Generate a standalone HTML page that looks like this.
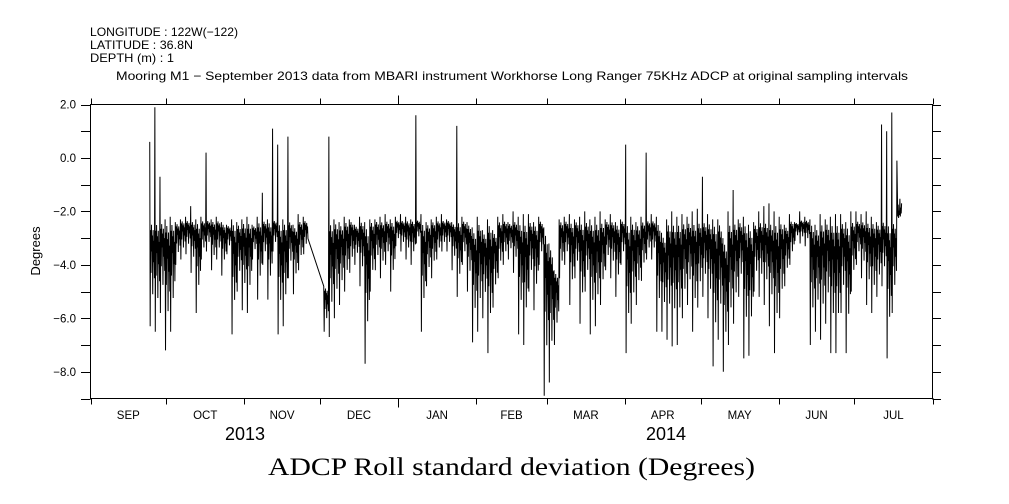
<!DOCTYPE html>
<html><head><meta charset="utf-8"><style>
html,body{margin:0;padding:0;background:#fff;}
svg{display:block;}
text{font-family:"Liberation Sans",sans-serif;fill:#000;}
</style></head><body>
<svg id="chart" width="1009" height="504" viewBox="0 0 1009 504" xmlns="http://www.w3.org/2000/svg">
<text x="90" y="36" font-size="12" textLength="148" lengthAdjust="spacingAndGlyphs">LONGITUDE : 122W(−122)</text>
<text x="90" y="49" font-size="12" textLength="103" lengthAdjust="spacingAndGlyphs">LATITUDE : 36.8N</text>
<text x="90" y="62" font-size="12" textLength="84" lengthAdjust="spacingAndGlyphs">DEPTH (m) : 1</text>
<text x="116" y="80" font-size="12" textLength="792" lengthAdjust="spacingAndGlyphs">Mooring M1 − September 2013 data from MBARI instrument Workhorse Long Ranger 75KHz ADCP at original sampling intervals</text>
<rect x="90.5" y="104.5" width="842" height="294" fill="none" stroke="#000" stroke-width="1"/>
<g id="axes"></g>
<polyline id="series" fill="none" stroke="#000" stroke-width="1"/>
<text transform="translate(40,251) rotate(-90)" font-size="13" text-anchor="middle">Degrees</text>
<text x="245" y="440" font-size="18" text-anchor="middle">2013</text>
<text x="666" y="440" font-size="18" text-anchor="middle">2014</text>
<text x="268" y="475" font-size="25" textLength="487" lengthAdjust="spacingAndGlyphs" style="font-family:'Liberation Serif',serif">ADCP Roll standard deviation (Degrees)</text>
</svg>
<script>
const months = ["SEP","OCT","NOV","DEC","JAN","FEB","MAR","APR","MAY","JUN","JUL"];
const monthStartDays = [0,30,61,91,122,153,181,212,242,273,303,334];
const yTicks = [2,1,0,-1,-2,-3,-4,-5,-6,-7,-8,-9];
const yLabels = ["2.0","0.0","-2.0","-4.0","-6.0","-8.0"];
const binHigh = [0.6,1.9,-0.7,-2.3,-2.2,-2.4,-2.3,-2.2,-1.8,-2.3,-2.2,0.2,-2.3,-2.2,-2.4,-2.5,-2.3,-2.4,-2.3,-2.2,-2.5,-2.2,-1.3,-2.3,1.1,0.5,-2.3,0.8,-2.5,-2.1,-2.2,null,null,null,-4.8,0.8,-2.3,-2.4,-2.2,-2.3,-2.5,-2.2,-2.4,-2.3,-2.3,-2.2,-2.1,-2.3,-2.2,-2.1,-2.2,-2.3,1.6,-2.1,-2.4,-2.3,-2.2,-2.1,-2.3,-2.4,1.2,-2.2,-2.4,-2.6,-2.2,-2.7,-2.3,-2.7,-2.2,-2.1,-2.4,-2.0,-2.2,-2.1,-2.1,-2.4,-2.2,-2.6,-3.2,-4.2,-2.3,-2.2,-2.1,-2.3,-2.2,-2.0,-2.3,-2.2,-2.0,-2.3,-2.1,-2.4,-2.3,0.5,-2.2,-2.4,-2.2,0.2,-2.1,-2.2,-2.8,-2.3,-2.0,-2.2,-2.1,-2.2,-2.0,-1.9,-0.7,-2.1,-2.3,-2.3,-3.0,-2.0,-1.2,-2.3,-2.2,-2.5,-2.4,-2.0,-1.8,-1.7,-2.0,-2.2,-2.5,-2.1,-2.4,-2.0,-2.2,-2.3,-2.5,-2.1,-2.3,-2.2,-2.1,-2.1,-2.4,-2.0,-2.0,-2.1,-2.0,-2.2,-2.4,1.25,1.0,1.7,-0.1];
const binLow = [-6.3,-6.5,-5.8,-7.2,-6.5,-4.0,-3.8,-3.6,-4.3,-5.8,-3.8,-3.5,-4.2,-3.8,-4.4,-3.6,-6.6,-5.0,-5.7,-5.8,-3.8,-5.3,-4.0,-5.3,-3.5,-6.6,-6.3,-4.5,-5.1,-4.2,-3.6,null,null,null,-6.5,-6.7,-6.0,-5.5,-5.0,-4.3,-4.0,-4.8,-7.7,-5.0,-4.2,-4.5,-4.0,-5.0,-3.3,-3.5,-3.8,-4.0,-3.2,-6.5,-4.8,-4.5,-3.8,-3.5,-3.5,-4.2,-5.2,-4.0,-5.0,-6.9,-6.5,-6.0,-7.3,-5.6,-4.5,-4.0,-3.8,-4.3,-6.6,-7.0,-5.0,-5.7,-4.0,-8.9,-8.4,-7.0,-4.5,-4.0,-5.5,-4.5,-6.2,-5.0,-6.6,-6.3,-5.5,-4.2,-4.5,-5.2,-4.0,-7.3,-6.2,-5.5,-4.6,-3.8,-3.8,-6.5,-6.5,-6.8,-7.05,-7.0,-6.0,-5.5,-6.5,-5.6,-5.2,-6.0,-7.8,-6.8,-8.0,-7.0,-6.2,-5.2,-7.5,-7.4,-5.0,-5.2,-5.5,-6.3,-7.3,-6.0,-4.8,-4.0,-3.1,-3.2,-3.3,-7.0,-6.5,-6.8,-6.2,-7.3,-7.3,-5.8,-7.3,-5.0,-4.0,-4.5,-5.5,-5.8,-5.2,-4.8,-7.5,-5.8,-1.2];
const firstBinDay = 23.5;
const binDays = 2.03;
// fractional depth pattern of intra-bin oscillation between band top and bin low
const subPattern = [0, 1, 0.1, 0.5, 0.05, 0.3, 0.15, 0.7, 0.1, 0.4, 0.2, 0.55];

const X0=90.5, X1=932.5, Y0=104.5, Y1=398.5, yMax=2, yMin=-9, dayMax=334;
function xScale(d){return X0+(X1-X0)*d/dayMax;}
function yScale(v){return Y0+(Y1-Y0)*(yMax-v)/(yMax-yMin);}
const NS="http://www.w3.org/2000/svg";
const axes=document.getElementById('axes');
function line(x1,y1,x2,y2,name){
  const l=document.createElementNS(NS,'line');
  l.setAttribute('x1',x1);l.setAttribute('y1',y1);l.setAttribute('x2',x2);l.setAttribute('y2',y2);
  l.setAttribute('stroke','#000');l.setAttribute('stroke-width','1');
  
  
  axes.appendChild(l);
}
function txt(x,y,s,anchor,size,name){
  const t=document.createElementNS(NS,'text');
  t.setAttribute('x',x);t.setAttribute('y',y);t.setAttribute('text-anchor',anchor);t.setAttribute('font-size',size);
  t.textContent=s;
  
  
  axes.appendChild(t);
}
yTicks.forEach(v=>{
  const y=Math.round(yScale(v))+0.5;
  line(81,y,X0,y,'y-tick');
  line(X1,y,941,y,'y-tick-right');
});
yLabels.forEach(s=>{
  const v=parseFloat(s);
  txt(76,yScale(v)+4,s.replace('-','\u2212'),'end',11.5,'y-tick-label');
});
monthStartDays.forEach((d,i)=>{
  const x=Math.round(xScale(d))+0.5;
  const isYear=(d===122);
  line(x,Y1,x,Y1+(isYear?9:6),'x-tick');
  line(x,Y0,x,Y0-(isYear?9:6),'x-tick-top');
});
months.forEach((m,i)=>{
  const xm=(xScale(monthStartDays[i])+xScale(monthStartDays[i+1]))/2;
  txt(xm,419,m,'middle',11.5,'month-label');
});
const pts=[];
for(let i=0;i<binHigh.length;i++){
  if(binHigh[i]===null) continue;
  const d=firstBinDay+i*binDays;
  const hi=binHigh[i], lo=binLow[i];
  const top=Math.min(hi,-2.3);
  const n=subPattern.length;
  for(let k=0;k<n;k++){
    const x=xScale(d+binDays*k/n);
    let v;
    if(k===0) v=hi;
    else v=top+(lo-top)*subPattern[k];
    pts.push(x.toFixed(2)+','+yScale(v).toFixed(1));
  }
}
document.getElementById('series').setAttribute('points',pts.join(' '));
</script>
</body></html>
